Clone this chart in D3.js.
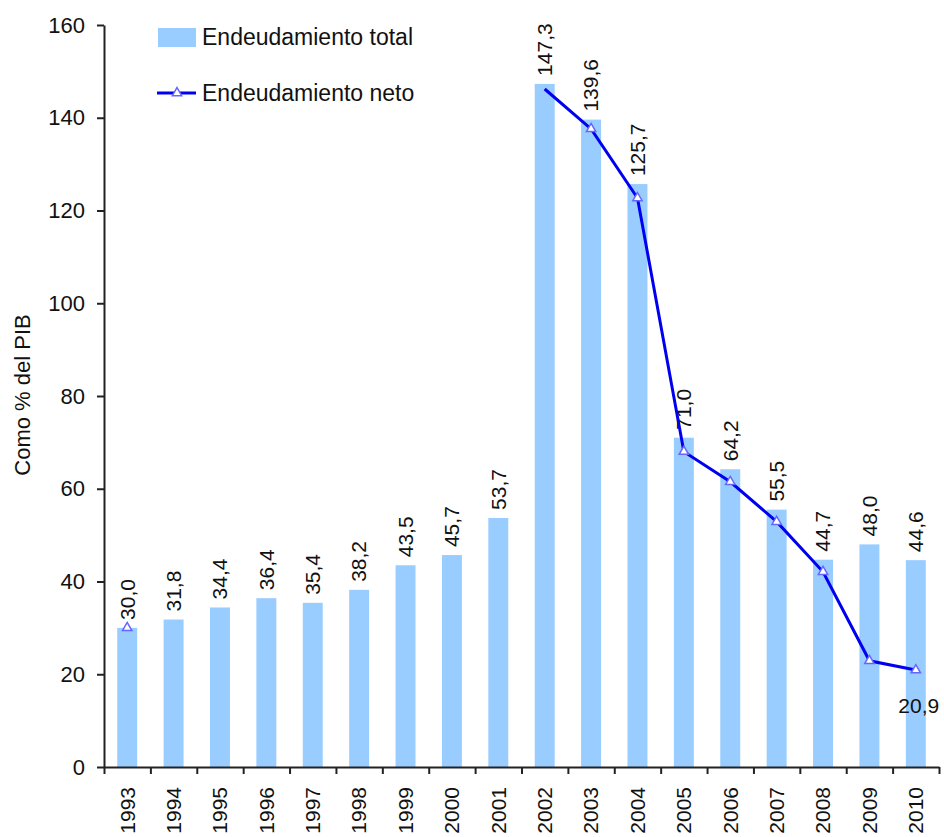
<!DOCTYPE html>
<html>
<head>
<meta charset="utf-8">
<script src="https://cdn.jsdelivr.net/npm/d3@7"></script>
<style>
  body { margin: 0; background: #fff; }
  text { font-family: "Liberation Sans", Arial, sans-serif; fill: #111; }
</style>
</head>
<body>
<div id="container"></div>
<script>
const WIDTH = 944;
const HEIGHT = 837;
const MARGIN = {top: 25, right: 5, bottom: 70, left: 104};

const INNER_WIDTH = WIDTH - MARGIN.left - MARGIN.right;
const INNER_HEIGHT = HEIGHT - MARGIN.top - MARGIN.bottom;

// datos
var years = ["1993", "1994", "1995", "1996", "1997", "1998", "1999", "2000", "2001",
             "2002", "2003", "2004", "2005", "2006", "2007", "2008", "2009", "2010"];
var total = [30.0, 31.8, 34.4, 36.4, 35.4, 38.2, 43.5, 45.7, 53.7,
             147.3, 139.6, 125.7, 71.0, 64.2, 55.5, 44.7, 48.0, 44.6];
var neto = [30.0, null, null, null, null, null, null, null, null,
            146.2, 137.6, 122.7, 68.0, 61.5, 52.9, 42.1, 22.9, 20.9];
var netoSinMarcador = ["2002"];
var netoEtiquetas = ["2010"];
var yTicks = [0, 20, 40, 60, 80, 100, 120, 140, 160];
var seriesNames = ["Endeudamiento total", "Endeudamiento neto"];

var fmt = function (v) { return v.toFixed(1).replace(".", ","); };

var translate = function (x, y) {
    return "translate(" + x + "," + y + ")";
};

var createChart = function () {
    var svg = d3.select("#container")
        .append("svg")
        .attr("width", WIDTH)
        .attr("height", HEIGHT);

    var xScale = d3.scaleBand().domain(years).range([0, INNER_WIDTH]).paddingInner(0.57).paddingOuter(0.285);
    var xIdx = d3.scaleLinear().domain([0, years.length]).range([0, INNER_WIDTH]);
    var yScale = d3.scaleLinear().domain([0, 160]).range([INNER_HEIGHT, 0]);

    var g = svg.append("g").attr("transform", translate(MARGIN.left, MARGIN.top));

    // barras
    g.selectAll(".bar").data(years)
        .enter()
        .append("rect")
        .attr("x", function (d) { return xScale(d); })
        .attr("width", xScale.bandwidth())
        .attr("y", function (d, i) { return yScale(total[i]); })
        .attr("height", function (d, i) { return INNER_HEIGHT - yScale(total[i]); })
        .attr("fill", "#99ccff");

    // etiquetas barras
    g.selectAll(".lbl").data(years)
        .enter()
        .append("text")
        .attr("transform", function (d, i) {
            return translate(xScale(d) + xScale.bandwidth() / 2, yScale(total[i]) - 8) + " rotate(-90)";
        })
        .attr("dy", "0.35em")
        .attr("font-size", 21)
        .text(function (d, i) { return fmt(total[i]); });

    // linea neto
    var pts = years.map(function (d, i) { return {year: d, v: neto[i]}; });
    var line = d3.line()
        .defined(function (d) { return d.v !== null; })
        .x(function (d) { return xScale(d.year) + xScale.bandwidth() / 2; })
        .y(function (d) { return yScale(d.v); });

    g.append("path")
        .attr("d", line(pts))
        .attr("stroke", "#0000f0")
        .attr("stroke-width", 3)
        .attr("fill", "none");

    var tri = d3.symbol().type(d3.symbolTriangle).size(38);
    g.selectAll(".mk").data(pts.filter(function (d) { return d.v !== null && netoSinMarcador.indexOf(d.year) < 0; }))
        .enter()
        .append("path")
        .attr("d", tri)
        .attr("transform", function (d) {
            return translate(xScale(d.year) + xScale.bandwidth() / 2, yScale(d.v));
        })
        .attr("fill", "white")
        .attr("stroke", "#6666ff")
        .attr("stroke-width", 1.5);

    g.selectAll(".nlbl").data(pts.filter(function (d) { return netoEtiquetas.indexOf(d.year) >= 0; }))
        .enter()
        .append("text")
        .attr("x", function (d) { return xScale(d.year) + xScale.bandwidth() / 2 + 3; })
        .attr("y", function (d) { return yScale(d.v) + 43; })
        .attr("text-anchor", "middle")
        .attr("font-size", 21)
        .text(function (d) { return fmt(d.v); });

    // ejes
    var yAxis = d3.axisLeft(yScale).tickValues(yTicks).tickSize(7).tickPadding(12).tickSizeOuter(0);
    var gy = g.append("g").call(yAxis);
    gy.selectAll("text").attr("font-size", 22);

    var xAxis = d3.axisBottom(xIdx).tickValues(d3.range(years.length + 1)).tickSize(7).tickSizeOuter(0).tickFormat("");
    var gx = g.append("g").attr("transform", translate(0, INNER_HEIGHT)).call(xAxis);

    g.selectAll(".domain, .tick line").attr("stroke", "#222").attr("stroke-width", 2);

    g.selectAll(".yr").data(years)
        .enter()
        .append("text")
        .attr("transform", function (d) {
            return translate(xScale(d) + xScale.bandwidth() / 2, INNER_HEIGHT + 20) + " rotate(-90)";
        })
        .attr("dy", "0.35em")
        .attr("text-anchor", "end")
        .attr("font-size", 21)
        .text(function (d) { return d; });

    svg.append("text")
        .attr("transform", translate(30, 395) + " rotate(-90)")
        .attr("text-anchor", "middle")
        .attr("font-size", 22)
        .text("Como % del PIB");

    // leyenda
    var lg = svg.append("g");
    lg.append("rect").attr("x", 158).attr("y", 28).attr("width", 38).attr("height", 19).attr("fill", "#99ccff");
    lg.append("text").attr("x", 202).attr("y", 45).attr("font-size", 23).text(seriesNames[0]);
    lg.append("line").attr("x1", 157).attr("x2", 196).attr("y1", 93).attr("y2", 93)
        .attr("stroke", "#0000f0").attr("stroke-width", 3);
    lg.append("path").attr("d", tri).attr("transform", translate(177, 93))
        .attr("fill", "white").attr("stroke", "#6666ff").attr("stroke-width", 1.5);
    lg.append("text").attr("x", 202).attr("y", 101).attr("font-size", 23).text(seriesNames[1]);
};

window.onload = createChart;
</script>
</body>
</html>
